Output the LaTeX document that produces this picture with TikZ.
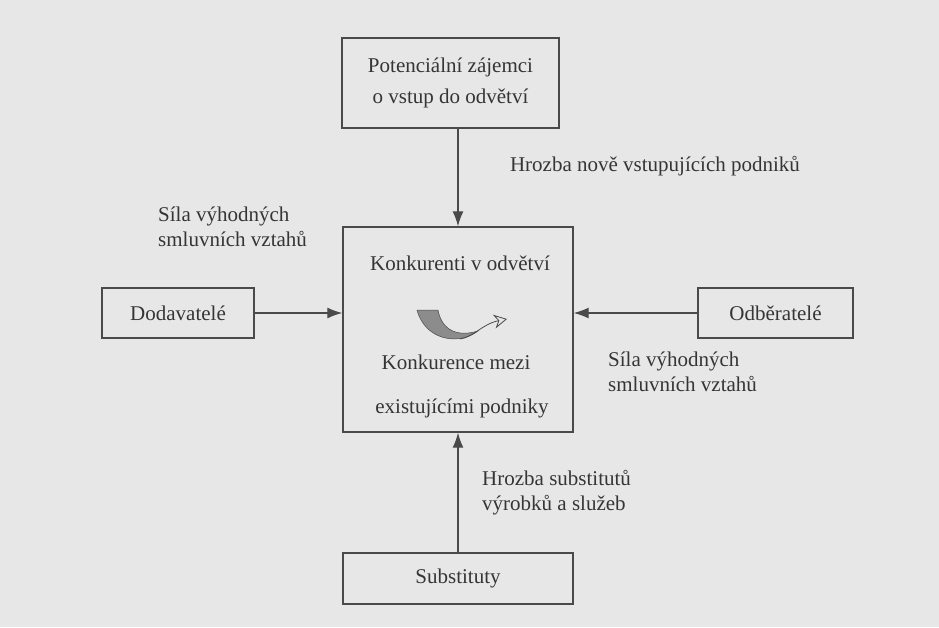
\documentclass[tikz,border=0pt]{standalone}
\usepackage{fontspec}
\setmainfont{Liberation Serif}
\usetikzlibrary{arrows.meta}
\definecolor{bg}{HTML}{E7E7E7}
\definecolor{ink}{HTML}{353535}
\definecolor{line}{HTML}{4A4A4A}
\definecolor{swoosh}{HTML}{8C8C8C}
\tikzset{
  box/.style={draw=line, line width=1.4pt, rectangle, inner sep=0pt},
  lbl/.style={text=ink, font=\fontsize{21}{25}\selectfont, inner sep=0pt},
  arr/.style={draw=line, line width=1.3pt, -{Latex[length=15pt,width=11pt]}}
}
\begin{document}
\begin{tikzpicture}[x=1pt,y=-1pt]
\fill[bg] (0,0) rectangle (939,627);
\useasboundingbox (0,0) rectangle (939,627);
% boxes
\node[box, minimum width=217pt, minimum height=90pt] (top) at (450.5,83) {};
\node[lbl, align=center] (toptxt) at (450.5,83) {Potenciální zájemci\\[6pt]o vstup do odvětví};
\node[box, minimum width=230pt, minimum height=205pt] (cen) at (458,329.5) {};
\node[box, minimum width=152pt, minimum height=50pt] (dod) at (178,313) {};
\node[lbl] (dodtxt) at (178,313) {Dodavatelé};
\node[box, minimum width=155pt, minimum height=50pt] (odb) at (775.5,313) {};
\node[lbl] (odbtxt) at (775.5,313) {Odběratelé};
\node[box, minimum width=230pt, minimum height=51pt] (sub) at (458,578.5) {};
\node[lbl] (subtxt) at (458,578.5) {Substituty};
% central texts
\node[lbl] (k1) at (460,263) {Konkurenti v odvětví};
\node[lbl] (k2) at (456,362) {Konkurence mezi};
\node[lbl] (k3) at (462,408) {existujícími podniky};
% swoosh icon
\fill[swoosh, draw=line, line width=0.5pt] (417,310) .. controls (425,340) and (458,346) .. (478,331)
  .. controls (458,337) and (442,331) .. (438,310) -- cycle;
\draw[line, line width=0.8pt, -{Stealth[open,length=13pt,width=14pt]}] (460,339) .. controls (474,337) and (482,324) .. (507,319);
% arrows
\draw[arr] (top.south -| cen.north) -- (cen.north);
\draw[arr] (sub.north) -- (cen.south);
\draw[arr] (dod.east) -- (cen.west |- dod.east);
\draw[arr] (odb.west) -- (cen.east |- odb.west);
% labels
\node[lbl] (l1) at (655,166) {Hrozba nově vstupujících podniků};
\node[lbl, align=left, anchor=west] (l2) at (158,227) {Síla výhodných\\smluvních vztahů};
\node[lbl, align=left, anchor=west] (l3) at (608,372) {Síla výhodných\\smluvních vztahů};
\node[lbl, align=left, anchor=west] (l4) at (482,493) {Hrozba substitutů\\výrobků a služeb};
\end{tikzpicture}
\end{document}
